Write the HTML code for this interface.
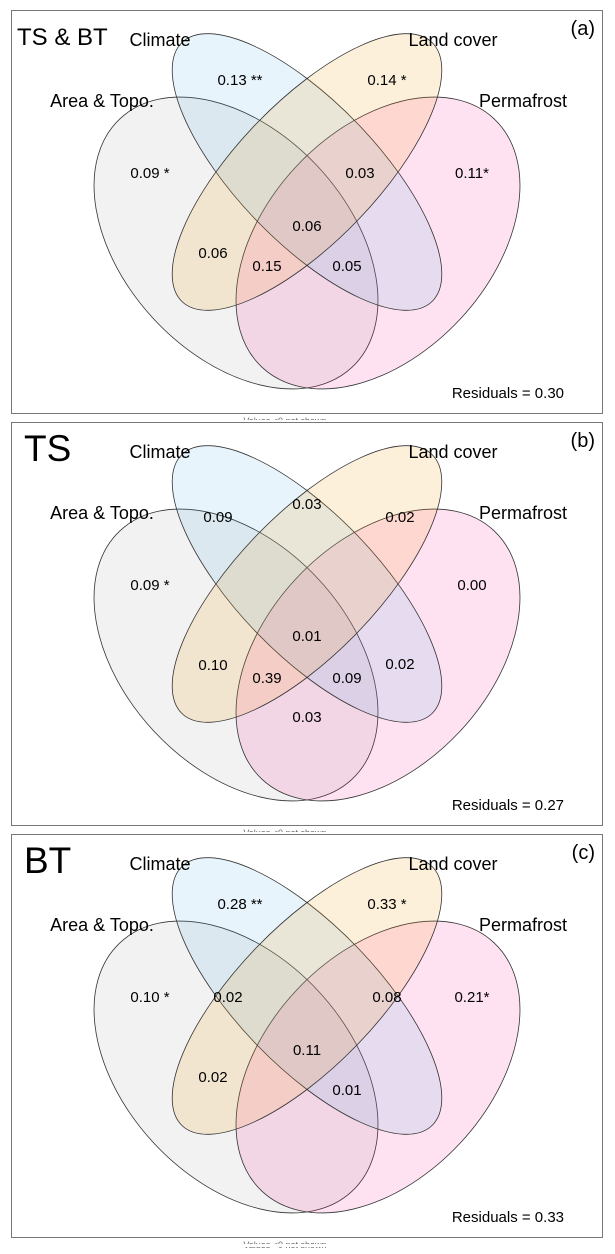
<!DOCTYPE html>
<html><head><meta charset="utf-8">
<style>
html,body{margin:0;padding:0;background:#fff;}
svg{display:block;font-family:"Liberation Sans",Arial,sans-serif;}
</style></head>
<body>
<svg id="chart" width="615" height="1254" viewBox="0 0 615 1254" xmlns="http://www.w3.org/2000/svg"></svg>
<script>
const panelTitles = ["TS & BT", "TS", "BT"];
const panelTags = ["(a)", "(b)", "(c)"];
const setNames = ["Climate", "Land cover", "Area & Topo.", "Permafrost"];
const residuals = ["0.30", "0.27", "0.33"];
const panelA = [["c","0.13 **"],["l","0.14 *"],["a","0.09 *"],["lp","0.03"],["p","0.11*"],["all","0.06"],["al","0.06"],["alp","0.15"],["acp","0.05"]];
const panelB = [["ac","0.09"],["cl","0.03"],["lp","0.02"],["a","0.09 *"],["p","0.00"],["all","0.01"],["al","0.10"],["alp","0.39"],["acp","0.09"],["cp","0.02"],["ap","0.03"]];
const panelC = [["c","0.28 **"],["l","0.33 *"],["a","0.10 *"],["ac","0.02"],["lp","0.08"],["p","0.21*"],["all","0.11"],["al","0.02"],["acp","0.01"]];
const panelData = [panelA, panelB, panelC];

const regionPos = {c:[240,80],l:[387,80],a:[150,173],p:[472,173],ac:[218,105],cl:[307,92],lp:[360,173],all:[307,226],al:[213,253],alp:[267,266],acp:[347,266],cp:[400,252],ap:[307,305]};
const bPos = {lp:[400,105],p:[472,173],all:[307,224]};
const cPos = {ac:[228,173],lp:[387,173]};

const svg = document.getElementById('chart');
const NS = "http://www.w3.org/2000/svg";
function mk(tag, attrs, parent){ const e=document.createElementNS(NS,tag); for(const k in attrs) e.setAttribute(k,attrs[k]); parent.appendChild(e); return e; }

const ellipses = [
 {name:"area-topo-ellipse", cx:236, cy:243, rx:170, ry:112, rot:47, fill:"#808080", op:0.10},
 {name:"permafrost-ellipse", cx:378, cy:243, rx:170, ry:112, rot:-47, fill:"#ff1493", op:0.12},
 {name:"climate-ellipse", cx:307, cy:172, rx:180, ry:70, rot:46, fill:"#56b4e9", op:0.14},
 {name:"land-cover-ellipse", cx:307, cy:172, rx:180, ry:70, rot:-46, fill:"#f0a020", op:0.16}
];

for(let i=0;i<3;i++){
  const g = mk('g',{transform:`translate(0,${i*412})`},svg);
  
  
  const r = mk('rect',{x:11.5,y:10.5,width:591,height:403,fill:"#fff",stroke:"#777","stroke-width":1},g);
  
  
  ellipses.forEach(e=>{
    const el = mk('ellipse',{cx:e.cx,cy:e.cy,rx:e.rx,ry:e.ry,transform:`rotate(${e.rot} ${e.cx} ${e.cy})`,fill:e.fill,'fill-opacity':e.op,stroke:"#333",'stroke-width':0.8},g);
    
    
  });
  const t = mk('text',{x:i==0?17:24,y:i==0?45:49,'font-size':i==0?24:37,fill:"#000"},g);
  t.textContent = panelTitles[i];
  
  
  const tg = mk('text',{x:595,y:35,'font-size':20,'text-anchor':'end'},g);
  tg.textContent = panelTags[i];
  
  
  const labPos = [[160,46],[453,46],[102,107],[523,107]];
  setNames.forEach((n,k)=>{
    const s = mk('text',{x:labPos[k][0],y:labPos[k][1],'font-size':18,'text-anchor':'middle'},g);
    s.textContent = n;
    
    
  });
  panelData[i].forEach(([key,val])=>{
    let p = regionPos[key];
    if(i==1 && bPos[key]) p = bPos[key];
    if(i==2 && cPos[key]) p = cPos[key];
    const v = mk('text',{x:p[0],y:p[1]+5,'font-size':15,'text-anchor':'middle'},g);
    v.textContent = val;
    
    
  });
  const rs = mk('text',{x:564,y:398,'font-size':15,'text-anchor':'end'},g);
  rs.textContent = "Residuals = " + residuals[i];
  
  
  const ft = mk('text',{x:285,y:424,'font-size':9,'text-anchor':'middle',fill:"#666"},g);
  ft.textContent = "Values <0 not shown";
  
  
  const cover = mk('rect',{x:200,y:420,width:200,height:3,fill:"#fff"},g);
  
  
}
</script>
</body></html>
